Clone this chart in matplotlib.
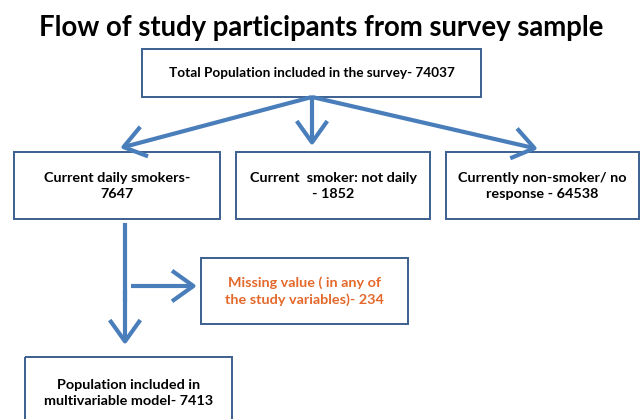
import matplotlib
matplotlib.use('Agg')
import matplotlib.pyplot as plt
from matplotlib.patches import Rectangle, FancyArrowPatch

# 数値データ
title = 'Flow of study participants from survey sample'
total_label = 'Total Population included in the survey- 74037'
group_labels = ['Current daily smokers-\n7647',
                'Current  smoker: not daily\n- 1852',
                'Currently non-smoker/ no\nresponse - 64538']
missing_label = 'Missing value ( in any of\nthe study variables)- 234'
final_label = 'Population included in\nmultivariable model- 7413'

plt.rcParams['font.family'] = ['Lato', 'DejaVu Sans']

edge = '#3b5f8e'
arrow_col = '#4a7ebb'
orange = '#e4682a'

fig = plt.figure(figsize=(6.42, 4.19), dpi=100)
ax = fig.add_axes([0, 0, 1, 1])
ax.set_xlim(0, 642)
ax.set_ylim(419, 0)
ax.axis('off')

def box(x0, y0, x1, y1, text, color='black', fs=10.4):
    ax.add_patch(Rectangle((x0, y0), x1 - x0, y1 - y0, fill=False,
                           edgecolor=edge, linewidth=1.4))
    ax.text((x0 + x1) / 2, (y0 + y1) / 2, text, ha='center', va='center',
            fontsize=fs, fontweight='bold', color=color, linespacing=1.4)

def arrow(p0, p1):
    ax.add_patch(FancyArrowPatch(p0, p1, arrowstyle='->,head_length=7,head_width=5',
                                 color=arrow_col, linewidth=3, mutation_scale=2.2,
                                 shrinkA=0, shrinkB=0, capstyle='butt'))

ax.text(321, 28, title, ha='center', va='center', fontsize=19.8, fontweight='bold')

box(142, 49, 481, 97, total_label, fs=9.8)
boxes = [(14, 152, 220, 219), (236, 152, 430, 219), (446, 152, 639, 219)]
for (x0, y0, x1, y1), lab in zip(boxes, group_labels):
    box(x0, y0, x1, y1, lab)

tips = [(120, 148), (312, 146), (538, 149)]
for t in tips:
    arrow((312, 97), t)

ax.plot([125, 125], [225, 300], color=arrow_col, linewidth=3)
arrow((125, 290), (125, 345))
arrow((131, 286), (197, 286))

box(201, 258, 408, 324, missing_label, color=orange)
box(25, 357, 232, 428, final_label)

fig.savefig('out.png', dpi=100)
